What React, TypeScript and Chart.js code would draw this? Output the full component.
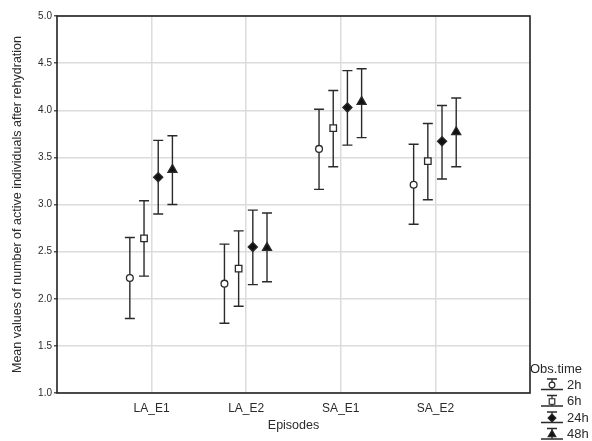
import React, { useEffect, useRef } from "react";
import { Chart, registerables } from "chart.js";

Chart.register(...registerables);

const categories = ["LA_E1", "LA_E2", "SA_E1", "SA_E2"];
const seriesNames = ["2h", "6h", "24h", "48h"];
const yTicks = [1.0, 1.5, 2.0, 2.5, 3.0, 3.5, 4.0, 4.5, 5.0];

const mean2h = [2.22, 2.16, 3.59, 3.21];
const low2h = [1.79, 1.74, 3.16, 2.79];
const high2h = [2.65, 2.58, 4.01, 3.64];

const mean6h = [2.64, 2.32, 3.81, 3.46];
const low6h = [2.24, 1.92, 3.4, 3.05];
const high6h = [3.04, 2.72, 4.21, 3.86];

const mean24h = [3.29, 2.55, 4.03, 3.67];
const low24h = [2.9, 2.15, 3.63, 3.27];
const high24h = [3.68, 2.94, 4.42, 4.05];

const mean48h = [3.37, 2.54, 4.09, 3.77];
const low48h = [3.0, 2.18, 3.71, 3.4];
const high48h = [3.73, 2.91, 4.44, 4.13];

const means = [mean2h, mean6h, mean24h, mean48h];
const lows = [low2h, low6h, low24h, low48h];
const highs = [high2h, high6h, high24h, high48h];
const offsets = [-0.23, -0.08, 0.07, 0.22];

const FONT = '"Liberation Sans", Arial, sans-serif';
const INK = "#2a2a2a";

const styles = [
  { pointStyle: "circle", radius: 3.4, fill: "#ffffff" },
  { pointStyle: "rect", radius: 4.6, fill: "#ffffff" },
  { pointStyle: "rectRot", radius: 4.6, fill: "#111" },
  { pointStyle: "triangle", radius: 5.2, fill: "#111" },
];

function drawMarker(ctx: CanvasRenderingContext2D, kind: string, x: number, y: number, r: number, fill: string) {
  ctx.save();
  ctx.beginPath();
  if (kind === "circle") {
    ctx.arc(x, y, r, 0, Math.PI * 2);
  } else if (kind === "rect") {
    const s = r * Math.SQRT1_2;
    ctx.rect(x - s, y - s, 2 * s, 2 * s);
  } else if (kind === "rectRot") {
    ctx.moveTo(x, y - r);
    ctx.lineTo(x + r, y);
    ctx.lineTo(x, y + r);
    ctx.lineTo(x - r, y);
    ctx.closePath();
  } else {
    ctx.moveTo(x, y - r);
    ctx.lineTo(x + r * 0.866, y + r * 0.5);
    ctx.lineTo(x - r * 0.866, y + r * 0.5);
    ctx.closePath();
  }
  ctx.fillStyle = fill;
  ctx.fill();
  ctx.lineWidth = 1.2;
  ctx.strokeStyle = INK;
  ctx.stroke();
  ctx.restore();
}

const framePlugin = {
  id: "frameAndErrors",
  beforeDatasetsDraw(chart: any) {
    const { ctx, chartArea } = chart;
    const ys = chart.scales.y;
    ctx.save();
    ctx.strokeStyle = "#222";
    ctx.lineWidth = 1.6;
    ctx.strokeRect(chartArea.left, chartArea.top, chartArea.right - chartArea.left, chartArea.bottom - chartArea.top);
    ctx.strokeStyle = INK;
    ctx.lineWidth = 1.4;
    chart.data.datasets.forEach((ds: any, di: number) => {
      const meta = chart.getDatasetMeta(di);
      meta.data.forEach((pt: any, i: number) => {
        const x = pt.x;
        const yl = ys.getPixelForValue(lows[di][i]);
        const yh = ys.getPixelForValue(highs[di][i]);
        ctx.beginPath();
        ctx.moveTo(x, yl);
        ctx.lineTo(x, yh);
        ctx.moveTo(x - 5, yl);
        ctx.lineTo(x + 5, yl);
        ctx.moveTo(x - 5, yh);
        ctx.lineTo(x + 5, yh);
        ctx.stroke();
      });
    });
    ctx.restore();
  },
  afterDraw(chart: any) {
    const { ctx } = chart;
    ctx.save();
    ctx.fillStyle = INK;
    ctx.font = `13px ${FONT}`;
    ctx.textBaseline = "middle";
    ctx.textAlign = "left";
    ctx.fillText("Obs.time", 530, 369);
    const lx = 552;
    const itemY = [385, 401.5, 418, 434.5];
    seriesNames.forEach((name, i) => {
      const y = itemY[i];
      ctx.strokeStyle = INK;
      ctx.lineWidth = 1.3;
      ctx.beginPath();
      ctx.moveTo(lx, y - 6);
      ctx.lineTo(lx, y + 4.5);
      ctx.moveTo(lx - 5, y - 6);
      ctx.lineTo(lx + 5, y - 6);
      ctx.moveTo(lx - 11, y + 4.5);
      ctx.lineTo(lx + 11, y + 4.5);
      ctx.stroke();
      const st = styles[i];
      drawMarker(ctx, st.pointStyle, lx, y, st.radius * 0.85, st.fill);
      ctx.fillStyle = INK;
      ctx.fillText(name, 567, y);
    });
    ctx.restore();
  },
};

export default function App() {
  const ref = useRef<HTMLCanvasElement | null>(null);
  useEffect(() => {
    if (!ref.current) return;
    const datasets = seriesNames.map((name, si) => ({
      label: name,
      data: means[si].map((v, ci) => ({ x: ci + 1 + offsets[si], y: v })),
      pointStyle: styles[si].pointStyle as any,
      pointRadius: styles[si].radius,
      pointBackgroundColor: styles[si].fill,
      pointBorderColor: INK,
      pointBorderWidth: 1.3,
      showLine: false,
    }));
    const chart = new Chart(ref.current, {
      type: "scatter",
      data: { datasets },
      options: {
        animation: false,
        responsive: false,
        layout: { padding: { top: 16, right: 62, left: 0, bottom: 0 } },
        plugins: { legend: { display: false }, tooltip: { enabled: false } },
        scales: {
          x: {
            type: "linear",
            min: 0,
            max: 5,
            afterBuildTicks: (scale: any) => {
              scale.ticks = [0, 1, 2, 3, 4, 5].map((v) => ({ value: v }));
            },
            ticks: {
              stepSize: 1,
              padding: 8,
              color: INK,
              font: { family: FONT, size: 12 },
              callback: (v: any) => categories[Number(v) - 1] ?? "",
              maxRotation: 0,
            },
            grid: {
              drawTicks: false,
              lineWidth: 1.5,
              color: (c: any) => (c.tick && c.tick.value >= 1 && c.tick.value <= 4 ? "#dcdcdc" : "rgba(0,0,0,0)"),
            },
            border: { display: false },
            title: {
              display: true,
              text: "Episodes",
              color: INK,
              font: { family: FONT, size: 12.5 },
              padding: { top: 0, bottom: 8 },
            },
            afterFit: (scale: any) => {
              scale.height = 48;
            },
          },
          y: {
            type: "linear",
            min: 1,
            max: 5,
            afterBuildTicks: (scale: any) => {
              scale.ticks = yTicks.map((v) => ({ value: v }));
            },
            ticks: {
              padding: 2,
              color: INK,
              font: { family: FONT, size: 10 },
              callback: (v: any) => Number(v).toFixed(1),
            },
            grid: { drawTicks: true, tickLength: 3, tickColor: "#555", lineWidth: 1.5, color: "#dcdcdc" },
            border: { display: false },
            title: {
              display: true,
              text: "Mean values of number of active individuals after rehydration",
              color: INK,
              font: { family: FONT, size: 12.5 },
              padding: { top: 10, bottom: 0 },
            },
            afterFit: (scale: any) => {
              scale.width = 57;
            },
          },
        },
      },
      plugins: [framePlugin],
    });
    return () => chart.destroy();
  }, []);
  return (
    <div style={{ position: "absolute", left: 0, top: 0, width: 592, height: 441, background: "#fff" }}>
      <canvas ref={ref} width={592} height={441} style={{ display: "block" }} />
    </div>
  );
}
